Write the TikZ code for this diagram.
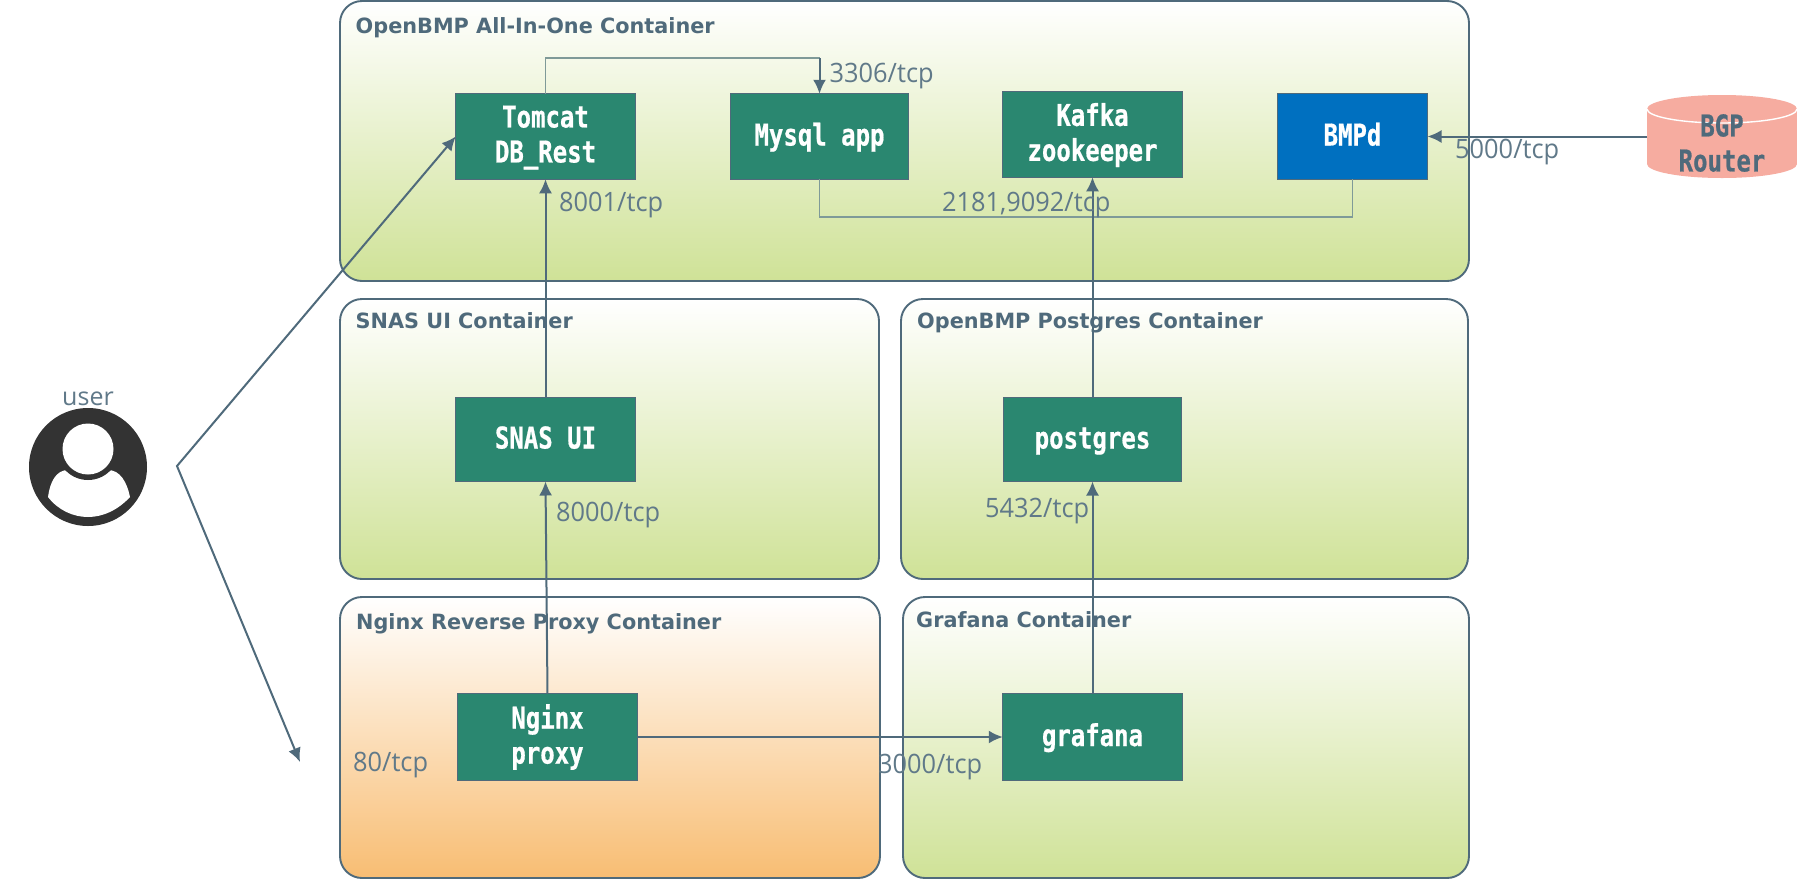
\documentclass[tikz,border=0pt]{standalone}
\usepackage{fontspec}
\setmainfont{Open Sans}
\newfontfamily\portf[FakeStretch=0.95]{Open Sans}
\newfontfamily\monob[FakeStretch=0.8,FakeBold=0.6]{DejaVu Sans Mono Bold}
\newfontfamily\titlef[FakeStretch=0.99]{DejaVu Sans Bold}
\usetikzlibrary{arrows.meta}
\definecolor{edgeblue}{HTML}{4F6A7B}
\definecolor{lblue}{HTML}{607989}
\definecolor{thinl}{HTML}{7F9A98}
\definecolor{greenb}{HTML}{CFE297}
\definecolor{orangeb}{HTML}{F8BD73}
\definecolor{teal1}{HTML}{2A8770}
\definecolor{blue1}{HTML}{0070C0}
\definecolor{salmon}{HTML}{F6ACA0}
\definecolor{iconk}{HTML}{333333}
\newcommand{\twolines}[2]{\rule{0pt}{24pt}#1\\#2\rule[-6pt]{0pt}{6pt}}
\tikzset{
  x=1pt,y=-1pt,
  container/.style={rectangle,rounded corners=22pt,draw=edgeblue,line width=1.9pt,inner sep=0,outer sep=0},
  greenbox/.style={container,top color=white,bottom color=greenb},
  orangebox/.style={container,top color=white,bottom color=orangeb},
  titletext/.style={anchor=base west,inner sep=0,text=edgeblue,font=\titlef\fontsize{21}{25}\selectfont},
  portlabel/.style={anchor=base west,inner sep=0,text=lblue,font=\portf\fontsize{26.7}{30}\selectfont},
  service/.style={rectangle,fill=teal1,draw=edgeblue,line width=1.4pt,inner sep=0,outer sep=0,text=white,align=center,font=\monob\fontsize{30}{35}\selectfont},
  oneline/.style={text height=24pt,text depth=6pt},
  bluesvc/.style={service,oneline,fill=blue1},
  link/.style={draw=edgeblue,line width=2pt,-{Latex[length=14pt,width=13pt]}},
  thinlink/.style={draw=thinl,line width=1.2pt},
}
\begin{document}
\begin{tikzpicture}
\useasboundingbox (0,0) rectangle (1797,879);
\fill[white] (0,0) rectangle (1797,879);
% containers
\node[greenbox,minimum width=1129pt,minimum height=280pt] (c1) at (904.5,141) {};
\node[greenbox,minimum width=539pt,minimum height=280pt] (c2) at (609.5,439) {};
\node[greenbox,minimum width=567pt,minimum height=280pt] (c3) at (1184.5,439) {};
\node[orangebox,minimum width=540pt,minimum height=281pt] (c4) at (610,737.5) {};
\node[greenbox,minimum width=566pt,minimum height=281pt] (c5) at (1186,737.5) {};
% titles
\node[titletext] (t1) at (355.5,33) {OpenBMP All-In-One Container};
\node[titletext] (t2) at (355.5,328) {SNAS UI Container};
\node[titletext] (t3) at (917,328) {OpenBMP Postgres Container};
\node[titletext] (t4) at (356,629) {Nginx Reverse Proxy Container};
\node[titletext] (t5) at (916,627) {Grafana Container};
% services
\node[service,minimum width=179.5pt,minimum height=85.5pt] (tomcat) at (545.5,136.5) {\twolines{Tomcat}{DB\_Rest}};
\node[service,oneline,minimum width=178.5pt,minimum height=85.5pt] (mysql) at (819.5,136.5) {Mysql app};
\node[service,minimum width=179.5pt,minimum height=85.5pt] (kafka) at (1092.5,134.5) {\twolines{Kafka}{zookeeper}};
\node[bluesvc,minimum width=150pt,minimum height=85.5pt] (bmpd) at (1352.5,136.5) {BMPd};
\node[service,oneline,minimum width=179.5pt,minimum height=84pt] (snas) at (545.5,439.5) {SNAS UI};
\node[service,oneline,minimum width=178.5pt,minimum height=84pt] (postgres) at (1092.5,439.5) {postgres};
\node[service,minimum width=179.5pt,minimum height=86.5pt] (nginx) at (547.5,737) {\twolines{Nginx}{proxy}};
\node[service,oneline,minimum width=179.5pt,minimum height=86.5pt] (grafana) at (1092.5,737) {grafana};
% BGP router cylinder
\fill[salmon] (1647,109) arc[start angle=180,end angle=0,x radius=75pt,y radius=14pt]
  -- (1797,164) arc[start angle=0,end angle=-180,x radius=75pt,y radius=14pt] -- cycle;
\draw[white,line width=1.4pt] (1647,109) arc[start angle=180,end angle=360,x radius=75pt,y radius=14pt];
\node[rectangle,inner sep=0,outer sep=0,minimum width=150pt,minimum height=83pt] (bgp) at (1722,136.5) {};
\node[align=center,inner sep=0,text=edgeblue,font=\monob\fontsize{30}{35}\selectfont] (bgptext) at (1722,143) {BGP\\Router};
% user icon
\fill[iconk] (88,467) circle[radius=59pt];
\fill[white] (48,497) .. controls (50,482) and (56,470) .. (68,470) -- (108,470)
  .. controls (120,470) and (127,482) .. (130,497)
  .. controls (118,510) and (103,517) .. (88,517)
  .. controls (73,517) and (58,510) .. (48,497) -- cycle;
\fill[iconk] (88,449) circle[radius=31pt];
\node[circle,fill=white,inner sep=0,outer sep=0,minimum size=51pt] (userhead) at (88,449) {};
\node[anchor=base,inner sep=0,text=lblue,font=\fontsize{25}{28}\selectfont] (usertext) at (88,405) {user};
% connectors
\coordinate (elbow) at (177,466);
\coordinate (free) at (300,762);
\coordinate (highbend) at (819.5,58);
\coordinate (lowbend) at (1352.5,217);
\draw[link,{Latex[length=14pt,width=13pt]}-{Latex[length=14pt,width=13pt]}] (tomcat.west) -- (elbow) -- (free);
\draw[thinlink] (mysql.south) |- (lowbend) -- (bmpd.south);
\draw[thinlink] (tomcat.north) |- (highbend);
\draw[link] (highbend) -- (mysql.north);
\draw[link] (snas.north) -- (tomcat.south);
\draw[link] (postgres.north) -- (kafka.south);
\draw[link] (nginx.north) -- (snas.south);
\draw[link] (grafana.north) -- (postgres.south);
\draw[link] (nginx.east) -- (grafana.west);
\draw[link] (bgp.west) -- (bmpd.east);
% port labels
\node[portlabel] (p3306) at (829.5,82) {3306/tcp};
\node[portlabel] (p8001) at (559,211) {8001/tcp};
\node[portlabel] (p2181) at (942,211) {2181,9092/tcp};
\node[portlabel] (p5000) at (1455,158) {5000/tcp};
\node[portlabel] (p8000) at (556,521) {8000/tcp};
\node[portlabel] (p5432) at (985,517) {5432/tcp};
\node[portlabel] (p80) at (353,771) {80/tcp};
\node[portlabel] (p3000) at (878,773) {3000/tcp};
\end{tikzpicture}
\end{document}
